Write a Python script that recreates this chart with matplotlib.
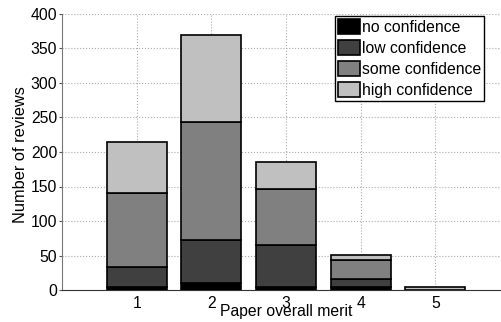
import matplotlib
matplotlib.use("Agg")
import matplotlib.pyplot as plt
import numpy as np

plt.rcParams['font.family'] = ['Liberation Sans', 'DejaVu Sans']

merit = [1, 2, 3, 4, 5]
no_conf = [5, 10, 5, 4, 0]
low_conf = [28, 62, 60, 12, 0]
some_conf = [107, 171, 81, 28, 0]
high_conf = [75, 127, 39, 7, 4]
series = [("no confidence", no_conf, "#000000"),
          ("low confidence", low_conf, "#404040"),
          ("some confidence", some_conf, "#808080"),
          ("high confidence", high_conf, "#c0c0c0")]
yticks = [0, 50, 100, 150, 200, 250, 300, 350, 400]

FS = 11.3
fig = plt.figure(figsize=(5.01, 3.22), dpi=100)
ax = fig.add_axes([62/501, 32/322, 448/501, 276/322])

bottom = np.zeros(len(merit))
for name, vals, col in series:
    ax.bar(merit, vals, width=0.8, bottom=bottom, color=col, edgecolor='black',
           linewidth=1.2, label=name, zorder=3)
    bottom += np.array(vals)

ax.set_xlim(0, 6)
ax.set_ylim(0, 400)
ax.set_xticks(merit)
ax.set_yticks(yticks)
ax.tick_params(labelsize=FS, direction='out', length=2, color='#555555')
ax.tick_params(axis='y', pad=1.5)
ax.tick_params(axis='x', pad=4, length=0)
ax.grid(True, linestyle=':', color='#aaaaaa', linewidth=0.8, zorder=0)
for s in ['top', 'right']:
    ax.spines[s].set_visible(False)
ax.spines['left'].set_color('#777777')
ax.spines['bottom'].set_color('#333333')

ax.set_xlabel("Paper overall merit", fontsize=FS, va='top')
ax.xaxis.set_label_coords(0.5, -0.05)
ax.set_ylabel("Number of reviews", fontsize=11.8, va='center')
ax.yaxis.set_label_coords((21 - 62) / 448, (290 - 155) / 276)

leg = ax.legend(loc='upper left', bbox_to_anchor=((335-62)/448, 1.0 - 2/276),
                fontsize=FS, frameon=True, fancybox=False, framealpha=1,
                edgecolor='black', handlelength=1.35, handleheight=1.08,
                handletextpad=0.12, labelspacing=0.32, borderpad=0.22,
                borderaxespad=0)
leg.get_frame().set_linewidth(1.0)

fig.savefig("out.png", dpi=100)
